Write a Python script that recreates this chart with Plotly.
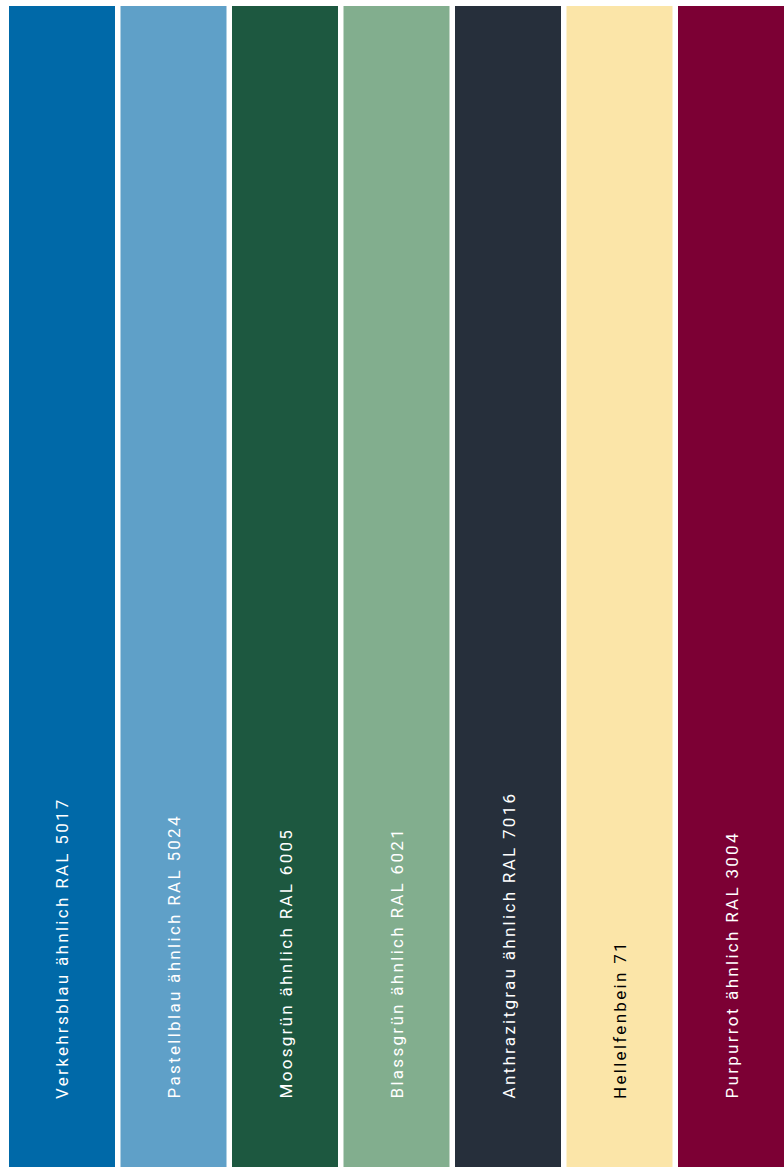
import plotly.graph_objects as go

categories = [
    "Verkehrsblau ähnlich RAL 5017",
    "Pastellblau ähnlich RAL 5024",
    "Moosgrün ähnlich RAL 6005",
    "Blassgrün ähnlich RAL 6021",
    "Anthrazitgrau ähnlich RAL 7016",
    "Hellelfenbein 71",
    "Purpurrot ähnlich RAL 3004",
]
values = [1, 1, 1, 1, 1, 1, 1]
bar_colors = ["#0069A8", "#5FA0C8", "#1D5840", "#82AE8E", "#262F3B", "#FBE5A8", "#7C0034"]
text_colors = ["white", "white", "white", "white", "white", "black", "white"]

W, H = 784, 1167
top = 6
pitch = 111.5
first_center = 62
bar_w = 106

x_idx = list(range(len(categories)))
x0 = -first_center / pitch
x1 = (W - first_center) / pitch

fig = go.Figure(go.Bar(
    x=x_idx, y=values, marker=dict(color=bar_colors, line=dict(width=0)),
    width=bar_w / pitch, hoverinfo="skip",
))

label_bottom_px = 1101
ylab = (H - label_bottom_px) / (H - top)
for i, (c, tc) in enumerate(zip(categories, text_colors)):
    fig.add_annotation(x=i, y=ylab, xref="x", yref="y",
                       text='<span style="letter-spacing:2.3px">' + c + '</span>',
                       textangle=-90,
                       showarrow=False, xanchor="center", yanchor="bottom",
                       font=dict(family="Roboto", size=17, color=tc))

fig.update_layout(
    width=W, height=H, margin=dict(l=0, r=0, t=top, b=0),
    paper_bgcolor="white", plot_bgcolor="white", showlegend=False,
    xaxis=dict(range=[x0, x1], visible=False, fixedrange=True),
    yaxis=dict(range=[0, 1], visible=False, fixedrange=True),
)
fig.write_html("out.html", config={"displayModeBar": False},
               post_script="document.body.style.margin='0px';")
